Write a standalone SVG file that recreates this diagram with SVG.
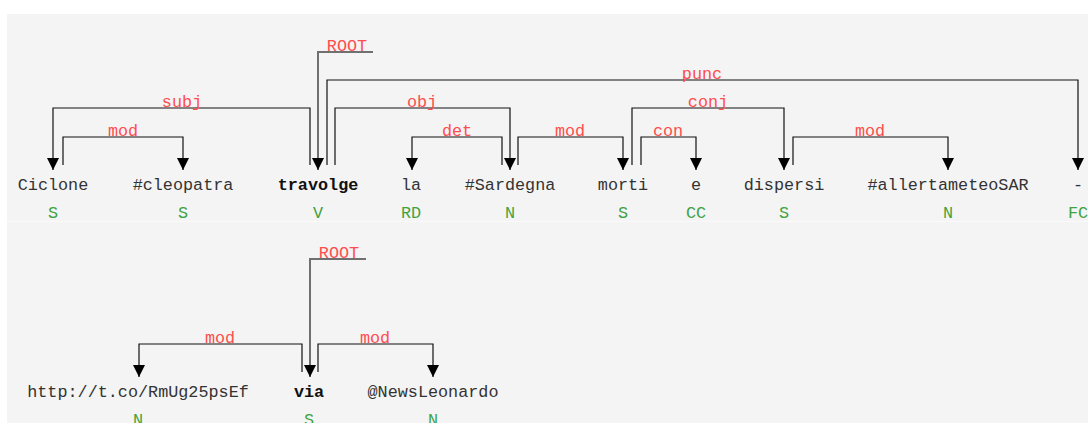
<svg xmlns="http://www.w3.org/2000/svg" width="1088" height="423" viewBox="0 0 1088 423">
<defs>
<style>
.w{font-family:"Liberation Mono","Courier New",monospace;font-size:16.8px;fill:#333;text-anchor:middle}
.b{font-weight:bold;fill:#111}
.p{font-family:"Liberation Mono","Courier New",monospace;font-size:16.8px;fill:#3fa33f;text-anchor:middle}
.l{font-family:"Liberation Mono","Courier New",monospace;font-size:16.8px;fill:#ff4d4d;text-anchor:middle}
.a{fill:none;stroke:#111;stroke-width:1.2;marker-end:url(#ah)}
.r{fill:none;stroke:#707070;stroke-width:2;marker-end:url(#ah)}
</style>
<marker id="ah" viewBox="0 0 12 12" refX="12" refY="6" markerWidth="12" markerHeight="12" markerUnits="userSpaceOnUse" orient="auto">
<path d="M0,0 L12,6 L0,12 z" fill="#000"/>
</marker>
</defs>
<rect x="0" y="0" width="1088" height="423" fill="#fff"/>
<rect x="7" y="14" width="1081" height="409" fill="#f4f4f4"/>
<line x1="7" y1="221.5" x2="1088" y2="221.5" stroke="#fafafa" stroke-width="1"/>

<g id="connectors">
<path class="r" d="M373,52 H318 V170"/>
<path class="a" d="M310,165 V108 H53 V170"/>
<path class="a" d="M63,165 V137 H183 V170"/>
<path class="a" d="M327,165 V80 H1078 V170"/>
<path class="a" d="M335,165 V108 H510 V170"/>
<path class="a" d="M502,165 V137 H412 V170"/>
<path class="a" d="M518,165 V137 H623 V170"/>
<path class="a" d="M632,165 V108 H784 V170"/>
<path class="a" d="M641,165 V137 H696 V170"/>
<path class="a" d="M793,165 V137 H948 V170"/>
<path class="r" d="M366,259 H310 V377"/>
<path class="a" d="M302,372 V344 H139 V377"/>
<path class="a" d="M318,372 V344 H433 V377"/>
<g id="labels">
<text class="l" x="347" y="51">ROOT</text>
<text class="l" x="182" y="107">subj</text>
<text class="l" x="123" y="136">mod</text>
<text class="l" x="702" y="79">punc</text>
<text class="l" x="422" y="107">obj</text>
<text class="l" x="457" y="136">det</text>
<text class="l" x="570" y="136">mod</text>
<text class="l" x="708" y="107">conj</text>
<text class="l" x="668" y="136">con</text>
<text class="l" x="870" y="136">mod</text>
<text class="l" x="339" y="258">ROOT</text>
<text class="l" x="220" y="343">mod</text>
<text class="l" x="375" y="343">mod</text>
</g>
</g>

<g id="n1"><text class="w" x="53" y="190">Ciclone</text><text class="p" x="53" y="218">S</text></g>
<g id="n2"><text class="w" x="183" y="190">#cleopatra</text><text class="p" x="183" y="218">S</text></g>
<g id="n3"><text class="w b" x="318" y="190">travolge</text><text class="p" x="318" y="218">V</text></g>
<g id="n4"><text class="w" x="411" y="190">la</text><text class="p" x="411" y="218">RD</text></g>
<g id="n5"><text class="w" x="510" y="190">#Sardegna</text><text class="p" x="510" y="218">N</text></g>
<g id="n6"><text class="w" x="623" y="190">morti</text><text class="p" x="623" y="218">S</text></g>
<g id="n7"><text class="w" x="696" y="190">e</text><text class="p" x="696" y="218">CC</text></g>
<g id="n8"><text class="w" x="784" y="190">dispersi</text><text class="p" x="784" y="218">S</text></g>
<g id="n9"><text class="w" x="948" y="190">#allertameteoSAR</text><text class="p" x="948" y="218">N</text></g>
<g id="n10"><text class="w" x="1078" y="190">-</text><text class="p" x="1078" y="218">FC</text></g>
<g id="n11"><text class="w" x="138" y="397">http://t.co/RmUg25psEf</text><text class="p" x="138" y="425">N</text></g>
<g id="n12"><text class="w b" x="309" y="397">via</text><text class="p" x="309" y="425">S</text></g>
<g id="n13"><text class="w" x="433" y="397">@NewsLeonardo</text><text class="p" x="433" y="425">N</text></g>
</svg>
